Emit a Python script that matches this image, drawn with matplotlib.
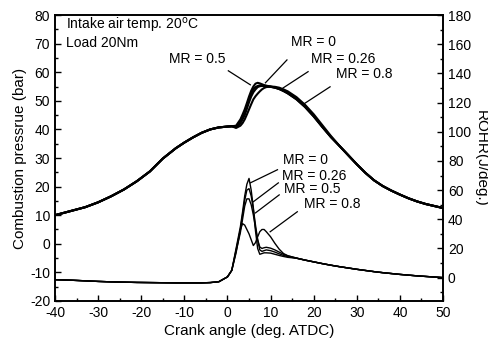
import matplotlib
matplotlib.use("Agg")
import matplotlib.pyplot as plt
import numpy as np
from matplotlib.ticker import MultipleLocator

plt.rcParams['font.family'] = ['Liberation Sans', 'DejaVu Sans']
plt.rcParams['axes.unicode_minus'] = False
plt.rcParams['font.size'] = 10

series = ["MR = 0", "MR = 0.26", "MR = 0.5", "MR = 0.8"]

# shared compression part
crank_pre = [-40, -36, -33, -30, -27, -24, -21, -18, -15, -12, -10, -8, -6, -4, -2, 0, 1]
pressure_pre = [10.0, 11.6, 12.8, 14.5, 16.6, 19.0, 21.9, 25.3, 29.8, 33.4, 35.4, 37.2, 38.8, 40.0, 40.7, 41.0, 41.1]
rohr_pre = [-1.4, -1.8, -2.2, -2.6, -2.9, -3.1, -3.3, -3.4, -3.5, -3.6, -3.6, -3.6, -3.6, -3.4, -2.8, 0.5, 5.0]

# combustion part (differs per series)
crank_comb = [2, 3, 3.5, 4, 4.5, 5, 5.5, 6, 6.5, 7, 7.5, 8, 8.5, 9, 10, 11, 12, 13, 14, 16, 18, 20, 22, 24]
pressure_mr0 = [41.3, 43.5, 45.2, 47.0, 49.2, 51.5, 53.5, 55.0, 56.0, 56.3, 56.1, 55.8, 55.5, 55.3, 55.0, 54.7, 54.2, 53.5, 52.6, 50.5, 47.8, 44.5, 40.8, 37.3]
pressure_mr026 = [41.0, 42.8, 44.3, 46.0, 48.2, 50.5, 52.5, 54.0, 54.8, 55.2, 55.4, 55.4, 55.3, 55.2, 54.9, 54.6, 54.1, 53.4, 52.6, 50.6, 47.9, 44.6, 40.9, 37.3]
pressure_mr05 = [40.8, 42.2, 43.5, 45.0, 47.2, 49.5, 51.5, 53.0, 54.0, 54.8, 55.1, 55.2, 55.2, 55.1, 54.9, 54.6, 54.2, 53.5, 52.8, 50.8, 48.0, 44.8, 41.0, 37.4]
pressure_mr08 = [40.5, 41.3, 42.2, 43.5, 45.2, 47.0, 48.8, 50.5, 51.6, 52.5, 53.3, 54.0, 54.5, 54.8, 55.0, 54.9, 54.6, 54.0, 53.3, 51.3, 48.6, 45.3, 41.5, 37.7]

rohr_mr0 = [20, 35, 45, 56, 64, 68, 60, 48, 32, 20, 16, 16.5, 17, 17, 16.8, 16.0, 15.2, 14.5, 13.9, 13.3, 12.0, 10.8, 9.6, 8.5]
rohr_mr026 = [19, 33, 43, 53, 60, 61, 56, 47, 36, 26, 19, 18, 18.5, 19, 18.5, 17.5, 16.3, 15.2, 14.4, 13.3, 12.0, 10.8, 9.6, 8.5]
rohr_mr05 = [18, 31, 40, 49, 54, 54, 50, 43, 34, 26, 21, 20, 20.5, 20.8, 20.2, 19.0, 17.5, 16.0, 14.9, 13.4, 12.0, 10.8, 9.6, 8.5]
rohr_mr08 = [17, 33, 37, 36, 33, 30, 26, 22, 24, 28, 31.5, 33, 33, 31.5, 28, 23.5, 19.5, 16.5, 15.0, 13.4, 12.0, 10.8, 9.6, 8.5]

# shared expansion part
crank_post = [26, 28, 30, 32, 34, 36, 38, 40, 42, 44, 46, 48, 50]
pressure_post = [34.2, 31.0, 27.8, 24.8, 22.2, 20.2, 18.6, 17.2, 15.9, 14.8, 13.9, 13.2, 12.5]
rohr_post = [7.5, 6.6, 5.7, 4.9, 4.1, 3.4, 2.8, 2.2, 1.7, 1.2, 0.8, 0.4, 0.0]

pressures = [pressure_mr0, pressure_mr026, pressure_mr05, pressure_mr08]
rohrs = [rohr_mr0, rohr_mr026, rohr_mr05, rohr_mr08]

fig = plt.figure(figsize=(4.89, 3.42), dpi=100)
ax = fig.add_axes([0.1125, 0.12, 0.7935, 0.836])
ax2 = ax.twinx()

x_all = crank_pre + crank_comb + crank_post
for p in pressures:
    ax.plot(x_all, pressure_pre + p + pressure_post, color='black', lw=1.5)
for r in rohrs:
    ax2.plot(x_all, rohr_pre + r + rohr_post, color='black', lw=1.0)

ax.set_xlim(-40, 50)
ax.set_ylim(-20, 80)
ax2.set_ylim(-16, 180)

ax.xaxis.set_major_locator(MultipleLocator(10))
ax.xaxis.set_minor_locator(MultipleLocator(5))
ax.yaxis.set_major_locator(MultipleLocator(10))
ax.yaxis.set_minor_locator(MultipleLocator(5))
ax2.yaxis.set_major_locator(MultipleLocator(20))
ax2.yaxis.set_minor_locator(MultipleLocator(10))

ax.tick_params(which='both', direction='in', top=False, right=False, labelsize=10)
ax.tick_params(which='major', length=4, width=1)
ax.tick_params(which='minor', length=2.5, width=1)
ax2.tick_params(which='both', direction='in', labelsize=10)
ax2.tick_params(which='major', length=4, width=1)
ax2.tick_params(which='minor', length=2.5, width=1)
for s in ax.spines.values():
    s.set_linewidth(1.2)
for s in ax2.spines.values():
    s.set_linewidth(1.2)

ax.set_xlabel("Crank angle (deg. ATDC)", fontsize=11, labelpad=3)
ax.set_ylabel("Combustion pressrue (bar)", fontsize=11, labelpad=2)
ax2.set_ylabel("ROHR(J/deg.)", fontsize=11, rotation=-90, labelpad=12)

ax.text(-37.5, 76.2, "Intake air temp. 20$^{\\mathrm{o}}$C", fontsize=10, va='center', ha='left')
ax.text(-37.5, 70.3, "Load 20Nm", fontsize=10, va='center', ha='left')

labels_top = [("MR = 0.5", (-6.9, 64.7), (0.2, 60.5), (5.3, 55.6)),
              ("MR = 0", (19.9, 70.6), (13.8, 64.3), (8.8, 56.3)),
              ("MR = 0.26", (26.8, 64.7), (18.7, 60.2), (12.9, 54.5)),
              ("MR = 0.8", (31.7, 59.4), (23.8, 54.9), (17.8, 49.0))]
labels_bot = [("MR = 0", (18.0, 29.4), (11.6, 25.9), (5.3, 21.3)),
              ("MR = 0.26", (20.1, 23.8), (11.8, 21.3), (6.0, 14.7)),
              ("MR = 0.5", (19.7, 19.2), (12.0, 17.1), (6.5, 10.8)),
              ("MR = 0.8", (24.3, 14.0), (16.2, 11.2), (9.9, 4.2))]
for txt, tpos, l0, l1 in labels_top + labels_bot:
    ax.text(tpos[0], tpos[1], txt, fontsize=10, ha='center', va='center')
    ax.plot([l0[0], l1[0]], [l0[1], l1[1]], color='black', lw=0.9)

fig.savefig("out.png", dpi=100)
